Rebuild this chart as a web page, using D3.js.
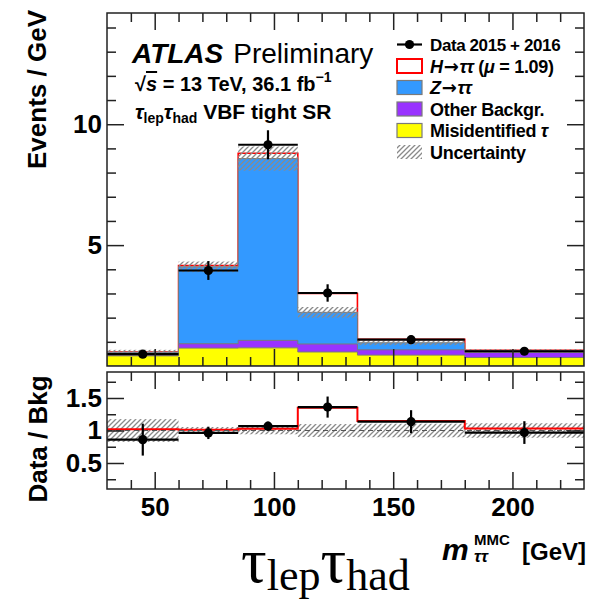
<!DOCTYPE html>
<html>
<head>
<meta charset="utf-8">
<script src="https://cdn.jsdelivr.net/npm/d3@7"></script>
<style>
  html, body { margin: 0; padding: 0; background: #fff; }
  svg { display: block; font-family: "Liberation Sans", Arial, Helvetica, sans-serif; }
</style>
</head>
<body>
<svg id="chart" width="589" height="605"></svg>
<script>
// m_tautau^MMC binning (GeV) and per-bin yields (Events / GeV)
const binEdges   = [30, 60, 85, 110, 135, 180, 230];
const fakeTau    = [0.42, 0.74, 0.75, 0.58, 0.45, 0.35];   // Misidentified tau
const otherBkg   = [0.04, 0.18, 0.31, 0.33, 0.22, 0.21];   // Other backgrounds
const zTauTau    = [0.11, 3.18, 7.52, 1.31, 0.29, 0.07];   // Z -> tautau
const higgsSig   = [0.01, 0.05, 0.22, 0.78, 0.14, 0.02];   // H -> tautau (mu = 1.09)
const bkgUnc     = [0.10, 0.22, 0.50, 0.22, 0.10, 0.07];   // background uncertainty
const dataVal    = [0.49, 3.95, 9.15, 3.02, 1.09, 0.61];   // Data 2015+2016
const dataErr    = [0.14, 0.39, 0.60, 0.36, 0.17, 0.11];

const mainTicksMajor  = [5, 10];
const mainTicksMinor  = [1, 2, 3, 4, 6, 7, 8, 9, 11, 12, 13, 14];
const ratioTicksMajor = [0.5, 1, 1.5];
const ratioTicksMinor = [0.25, 0.75, 1.25, 1.75];
const xTicksMajor     = [50, 100, 150, 200];
const xTicksMinor     = [40, 60, 70, 80, 90, 110, 120, 130, 140, 160, 170, 180, 190, 210, 220];

const legendLabels = ["Data 2015 + 2016", "H→ττ (μ = 1.09)", "Z→ττ", "Other Backgr.", "Misidentified τ", "Uncertainty"];

const colFake = "#ffff00", colOther = "#9933ff", colZ = "#3399ff", colSig = "#ff0000";
const frameCol = "#222";
const arrowFont = "'DejaVu Sans', sans-serif";

const svg = d3.select("#chart");

// panel geometry
const L = 107, R = 584;
const mainTop = 13, mainBot = 366;
const ratTop = 372, ratBot = 489;

const x = d3.scaleLinear().domain([30, 230]).range([L, R]);
const y = d3.scaleLinear().domain([0, 14.6]).range([mainBot, mainTop]);
const yr = d3.scaleLinear().domain([0.1, 1.9]).range([ratBot, ratTop]);

// derived quantities
const nb = dataVal.length;
const bins = d3.range(nb).map(i => {
  const c1 = fakeTau[i];
  const c2 = c1 + otherBkg[i];
  const c3 = c2 + zTauTau[i];
  const c4 = c3 + higgsSig[i];
  return {
    lo: binEdges[i], hi: binEdges[i + 1], mid: (binEdges[i] + binEdges[i + 1]) / 2,
    c1, c2, c3, c4, unc: bkgUnc[i], data: dataVal[i], err: dataErr[i]
  };
});

// hatch pattern for uncertainty
const defs = svg.append("defs");
const pat = defs.append("pattern").attr("id", "hatch")
  .attr("patternUnits", "userSpaceOnUse").attr("width", 5).attr("height", 5);
pat.append("path").attr("d", "M-1,1 l2,-2 M0,5 l5,-5 M4,6 l2,-2")
  .attr("stroke", "#8a8a8a").attr("stroke-width", 1.3);

defs.append("clipPath").attr("id", "clipMain").append("rect")
  .attr("x", L).attr("y", mainTop).attr("width", R - L).attr("height", mainBot - mainTop);
defs.append("clipPath").attr("id", "clipRat").append("rect")
  .attr("x", L).attr("y", ratTop).attr("width", R - L).attr("height", ratBot - ratTop);

// step outline closed to zero
function stepArea(key, ys) {
  let p = `M${x(bins[0].lo)},${ys(0)}`;
  bins.forEach(b => { p += `L${x(b.lo)},${ys(b[key])}L${x(b.hi)},${ys(b[key])}`; });
  p += `L${x(bins[nb - 1].hi)},${ys(0)}Z`;
  return p;
}
function stepLine(vals, ys) {
  let p = "";
  bins.forEach((b, i) => {
    p += (i === 0 ? "M" : "L") + `${x(b.lo)},${ys(vals[i])}L${x(b.hi)},${ys(vals[i])}`;
  });
  return p;
}

// ---------- main panel ----------
const gMain = svg.append("g").attr("clip-path", "url(#clipMain)");
const stack = [
  { key: "c4", fill: "#ffffff", stroke: colSig, sw: 1.6 },
  { key: "c3", fill: colZ, stroke: "#7a7a7a", sw: 1 },
  { key: "c2", fill: colOther, stroke: "#7a7a7a", sw: 1 },
  { key: "c1", fill: colFake, stroke: "#7a7a7a", sw: 1 }
];
stack.forEach(s => {
  gMain.append("path").attr("d", stepArea(s.key, y))
    .attr("fill", s.fill).attr("stroke", s.stroke).attr("stroke-width", s.sw);
});

// uncertainty band on background
gMain.selectAll("rect.unc").data(bins).join("rect").attr("class", "unc")
  .attr("x", d => x(d.lo)).attr("width", d => x(d.hi) - x(d.lo))
  .attr("y", d => y(d.c3 + d.unc)).attr("height", d => y(d.c3 - d.unc) - y(d.c3 + d.unc))
  .attr("fill", "url(#hatch)");

// data points
function drawData(g, ys, val, err) {
  bins.forEach((b, i) => {
    g.append("line").attr("x1", x(b.lo)).attr("x2", x(b.hi))
      .attr("y1", ys(val[i])).attr("y2", ys(val[i]))
      .attr("stroke", "#000").attr("stroke-width", 2.2);
    g.append("line").attr("x1", x(b.mid)).attr("x2", x(b.mid))
      .attr("y1", ys(val[i] - err[i])).attr("y2", ys(val[i] + err[i]))
      .attr("stroke", "#000").attr("stroke-width", 2.2);
    g.append("circle").attr("cx", x(b.mid)).attr("cy", ys(val[i])).attr("r", 4.6).attr("fill", "#000");
  });
}
drawData(gMain, y, dataVal, dataErr);

// ---------- ratio panel ----------
const gRat = svg.append("g").attr("clip-path", "url(#clipRat)");
const ratioData = bins.map(b => b.data / b.c3);
const ratioErr = bins.map(b => b.err / b.c3);
const ratioSig = bins.map(b => b.c4 / b.c3);
const ratioUnc = bins.map(b => b.unc / b.c3);

gRat.selectAll("rect.unc").data(bins).join("rect").attr("class", "unc")
  .attr("x", d => x(d.lo)).attr("width", d => x(d.hi) - x(d.lo))
  .attr("y", (d, i) => yr(1 + ratioUnc[i]))
  .attr("height", (d, i) => yr(1 - ratioUnc[i]) - yr(1 + ratioUnc[i]))
  .attr("fill", "url(#hatch)");

gRat.append("path").attr("d", stepLine(ratioSig, yr))
  .attr("fill", "none").attr("stroke", colSig).attr("stroke-width", 2);
gRat.append("line").attr("x1", L).attr("x2", R).attr("y1", yr(1)).attr("y2", yr(1))
  .attr("stroke", "#555").attr("stroke-width", 1.2).attr("stroke-dasharray", "5,4");
drawData(gRat, yr, ratioData, ratioErr);

// ---------- axes ----------
function styleAxis(g) {
  g.select(".domain").remove();
  g.selectAll(".tick line").attr("stroke", frameCol).attr("stroke-width", 1.5);
  g.selectAll("text").attr("fill", "#000").attr("font-size", 26).attr("font-weight", "bold")
    .attr("font-family", "'Liberation Sans', Arial, sans-serif");
  return g;
}
const majLen = 17, minLen = 9;

function addY(ys, major, minor, fmt) {
  styleAxis(svg.append("g").attr("transform", `translate(${L},0)`)
    .call(d3.axisLeft(ys).tickValues(major).tickSize(-majLen).tickPadding(5).tickFormat(fmt)));
  styleAxis(svg.append("g").attr("transform", `translate(${L},0)`)
    .call(d3.axisLeft(ys).tickValues(minor).tickSize(-minLen).tickFormat("")));
  styleAxis(svg.append("g").attr("transform", `translate(${R},0)`)
    .call(d3.axisRight(ys).tickValues(major).tickSize(-majLen).tickFormat("")));
  styleAxis(svg.append("g").attr("transform", `translate(${R},0)`)
    .call(d3.axisRight(ys).tickValues(minor).tickSize(-minLen).tickFormat("")));
}
addY(y, mainTicksMajor, mainTicksMinor, d3.format("d"));
addY(yr, ratioTicksMajor, ratioTicksMinor, d => d === 1 ? "1" : d3.format(".1f")(d));

function addX(yPos, side, labels) {
  const gen = side === "bottom" ? d3.axisBottom : d3.axisTop;
  styleAxis(svg.append("g").attr("transform", `translate(0,${yPos})`)
    .call(gen(x).tickValues(xTicksMajor).tickSize(-majLen).tickPadding(9)
      .tickFormat(labels ? d3.format("d") : "")));
  styleAxis(svg.append("g").attr("transform", `translate(0,${yPos})`)
    .call(gen(x).tickValues(xTicksMinor).tickSize(-minLen).tickFormat("")));
}
addX(mainBot, "bottom", false);
addX(mainTop, "top", false);
addX(ratBot, "bottom", true);
addX(ratTop, "top", false);

// frames
[[mainTop, mainBot], [ratTop, ratBot]].forEach(([t, b]) => {
  svg.append("rect").attr("x", L).attr("y", t).attr("width", R - L).attr("height", b - t)
    .attr("fill", "none").attr("stroke", frameCol).attr("stroke-width", 1.5);
});

// ---------- axis titles ----------
svg.append("text").attr("transform", "translate(46,10) rotate(-90)")
  .attr("text-anchor", "end").attr("font-size", 26).attr("font-weight", "bold")
  .text("Events / GeV");
svg.append("text").attr("transform", "translate(47,439) rotate(-90)")
  .attr("text-anchor", "middle").attr("font-size", 26).attr("font-weight", "bold")
  .text("Data / Bkg");

// x title: m_{tautau}^{MMC} [GeV]
svg.append("text").attr("x", 442).attr("y", 560).attr("font-size", 30)
  .attr("font-weight", "bold").attr("font-style", "italic").text("m");
svg.append("text").attr("x", 474).attr("y", 545).attr("font-size", 15)
  .attr("font-weight", "bold").text("MMC");
svg.append("text").attr("x", 474).attr("y", 562).attr("font-size", 17)
  .attr("font-weight", "bold").attr("font-style", "italic").text("ττ");
svg.append("text").attr("x", 586).attr("y", 560).attr("text-anchor", "end").attr("font-size", 24)
  .attr("font-weight", "bold").text("[GeV]");

// ---------- ATLAS label ----------
const atl = svg.append("text").attr("x", 132).attr("y", 63).attr("font-size", 28);
atl.append("tspan").attr("font-weight", "bold").attr("font-style", "italic").text("ATLAS");
atl.append("tspan").attr("dx", 10).text("Preliminary");

const en = svg.append("text").attr("x", 135).attr("y", 91).attr("font-size", 20).attr("font-weight", "bold");
en.append("tspan").text("√");
en.append("tspan").attr("font-style", "italic").attr("text-decoration", "overline").text("s");
en.append("tspan").text(" = 13 TeV, 36.1 fb");
en.append("tspan").attr("font-size", 14).attr("dy", -9).text("−1");

const reg = svg.append("text").attr("x", 135).attr("y", 119).attr("font-size", 21).attr("font-weight", "bold");
reg.append("tspan").attr("font-style", "italic").text("τ");
reg.append("tspan").attr("font-size", 14).attr("dy", 4).text("lep");
reg.append("tspan").attr("font-style", "italic").attr("dy", -4).text("τ");
reg.append("tspan").attr("font-size", 14).attr("dy", 4).text("had");
reg.append("tspan").attr("dy", -4).text(" VBF tight SR");

// ---------- legend ----------
const legY0 = 44.5, legDy = 21.5, legX = 397, boxW = 25, boxH = 14, txtX = 430;
const leg = svg.append("g");
legendLabels.forEach((lab, i) => {
  const cy = legY0 + i * legDy;
  if (i === 0) {
    leg.append("line").attr("x1", legX).attr("x2", legX + boxW).attr("y1", cy).attr("y2", cy)
      .attr("stroke", "#000").attr("stroke-width", 2.2);
    leg.append("circle").attr("cx", legX + boxW / 2).attr("cy", cy).attr("r", 4.6).attr("fill", "#000");
  } else {
    const spec = [null,
      { fill: "#fff", stroke: colSig, sw: 2 },
      { fill: colZ, stroke: "#7a7a7a", sw: 1.2 },
      { fill: colOther, stroke: "#7a7a7a", sw: 1.2 },
      { fill: colFake, stroke: "#7a7a7a", sw: 1.2 },
      { fill: "url(#hatch)", stroke: "none", sw: 0 }][i];
    leg.append("rect").attr("x", legX).attr("y", cy - boxH / 2).attr("width", boxW).attr("height", boxH)
      .attr("fill", spec.fill).attr("stroke", spec.stroke).attr("stroke-width", spec.sw);
  }
  const t = leg.append("text").attr("x", txtX).attr("y", cy + 6.5).attr("font-size", 18)
    .attr("font-weight", "bold").attr("letter-spacing", -0.3);
  if (i === 1) {
    t.append("tspan").attr("font-style", "italic").text("H");
    t.append("tspan").attr("font-family", arrowFont).attr("dx", 1).text("→");
    t.append("tspan").attr("font-style", "italic").attr("dx", 1).text("ττ");
    t.append("tspan").text(" (");
    t.append("tspan").attr("font-style", "italic").text("μ");
    t.append("tspan").text(" = 1.09)");
  } else if (i === 2) {
    t.append("tspan").attr("font-style", "italic").text("Z");
    t.append("tspan").attr("font-family", arrowFont).attr("dx", 1).text("→");
    t.append("tspan").attr("font-style", "italic").attr("dx", 1).text("ττ");
  } else if (i === 4) {
    t.append("tspan").text("Misidentified ");
    t.append("tspan").attr("font-style", "italic").text("τ");
  } else if (i === 0) {
    t.attr("font-size", 17).attr("letter-spacing", -0.4).text(lab);
  } else {
    t.text(lab);
  }
});

// ---------- channel label ----------
const ch = svg.append("text").attr("x", 241).attr("y", 582)
  .attr("font-family", "'Liberation Serif', 'Times New Roman', serif").attr("font-size", 64).attr("fill", "#000");
ch.append("tspan").text("τ");
ch.append("tspan").attr("font-size", 44).attr("dy", 8).text("lep");
ch.append("tspan").attr("dy", -8).text("τ");
ch.append("tspan").attr("font-size", 44).attr("dy", 8).text("had");
</script>
</body>
</html>
